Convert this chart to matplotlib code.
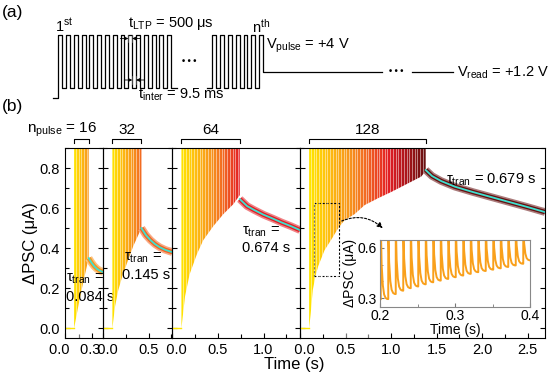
import numpy as np
import matplotlib
matplotlib.use('Agg')
import matplotlib.pyplot as plt
from matplotlib.colors import LinearSegmentedColormap, to_rgb
from matplotlib.patches import Rectangle
from matplotlib.ticker import MultipleLocator

plt.rcParams['font.family'] = ['Liberation Sans', 'DejaVu Sans']
plt.rcParams['mathtext.fontset'] = 'custom'
plt.rcParams['mathtext.rm'] = 'Liberation Sans'
plt.rcParams['mathtext.it'] = 'Liberation Sans:italic'
plt.rcParams['mathtext.default'] = 'regular'

# ------------------------- data -------------------------
n_pulse = [16, 32, 64, 128]
pulse_start = 0.1       # s
pulse_period = 0.01     # t_LTP + t_inter
t_max = [0.42, 0.76, 1.40, 2.69]
tau_text = ['0.084 s', '0.145 s', '0.674 s', '0.679 s']

# lower envelope of the spike train (troughs)
env1_t = [0.10, 0.15, 0.20, 0.26]
env1_v = [0.00, 0.12, 0.23, 0.35]
env2_t = [0.10, 0.13, 0.165, 0.21, 0.257, 0.33, 0.42]
env2_v = [0.00, 0.11, 0.19, 0.26, 0.32, 0.41, 0.50]
env3_t = [0.10, 0.12, 0.14, 0.19, 0.27, 0.34, 0.45, 0.56, 0.67, 0.74]
env3_v = [0.00, 0.08, 0.16, 0.27, 0.37, 0.44, 0.51, 0.57, 0.62, 0.665]
env4_t = [0.10, 0.117, 0.14, 0.17, 0.20, 0.27, 0.34, 0.42, 0.49, 0.60, 0.71, 0.86, 1.00, 1.15, 1.33, 1.38]
env4_v = [0.00, 0.07, 0.19, 0.26, 0.31, 0.39, 0.44, 0.50, 0.54, 0.57, 0.615, 0.65, 0.68, 0.715, 0.757, 0.785]

# relaxation after the last pulse
tail1_t = [0.26, 0.29, 0.32, 0.35, 0.38, 0.42]
tail1_v = [0.35, 0.328, 0.31, 0.297, 0.288, 0.28]
tail2_t = [0.42, 0.47, 0.52, 0.57, 0.62, 0.68, 0.76]
tail2_v = [0.50, 0.465, 0.44, 0.42, 0.405, 0.392, 0.38]
tail3_t = [0.74, 0.82, 0.90, 1.00, 1.10, 1.20, 1.30, 1.40]
tail3_v = [0.645, 0.61, 0.59, 0.567, 0.548, 0.528, 0.51, 0.49]
tail4_t = [1.38, 1.45, 1.55, 1.70, 1.90, 2.10, 2.30, 2.50, 2.69]
tail4_v = [0.79, 0.76, 0.735, 0.707, 0.68, 0.655, 0.63, 0.605, 0.58]

envs = [(env1_t, env1_v), (env2_t, env2_v), (env3_t, env3_v), (env4_t, env4_v)]
tails = [(tail1_t, tail1_v), (tail2_t, tail2_v), (tail3_t, tail3_v), (tail4_t, tail4_v)]

# inset: troughs of the 20 pulses between 0.2 and 0.4 s
inset_t0 = 0.201
inset_trough = [0.295, 0.325, 0.345, 0.36, 0.37, 0.383, 0.395, 0.405, 0.415, 0.425,
                0.435, 0.445, 0.455, 0.462, 0.47, 0.478, 0.486, 0.495, 0.505, 0.525]

# ------------------------- style -------------------------
W, H = 550, 379
cmap = LinearSegmentedColormap.from_list('pulse', [
    (0.0, '#FFE600'), (0.15, '#FFC20E'), (0.35, '#F7941D'), (0.5, '#F26522'),
    (0.68, '#E31E24'), (0.84, '#A8151A'), (1.0, '#651010')])
end_frac = [0.35, 0.5, 0.68, 1.0]
fit_color = '#3EE0D0'

def lighten(c, a=0.5):
    r = np.array(to_rgb(c))
    return tuple(r + (1 - r) * a)

# labels at the shared panel borders are nudged apart with spaces, as in the original
def x_fmt(panel):
    def f(v, p):
        s = f'{v:.1f}'
        if panel == 0:
            return s + '   ' if abs(v) < 1e-9 else s + ' '
        return '  ' + s if abs(v) < 1e-9 else s
    return plt.FuncFormatter(f)

fig = plt.figure(figsize=(W / 100, H / 100), dpi=100)

# ------------------------- (b) panels -------------------------
edges_px = [65, 103.3, 172.3, 300, 545]
bottom = (H - 338.3) / H
height = (338.3 - 148) / H
x_major = [0.3, 0.5, 0.5, 0.5]

axes = []
for i in range(4):
    ax = fig.add_axes([edges_px[i] / W, bottom, (edges_px[i + 1] - edges_px[i]) / W, height])
    ax.patch.set_visible(False)
    axes.append(ax)
    et, ev = envs[i]
    tt, tv = tails[i]

    # baseline before the train
    ax.plot([0, et[0]], [0, 0], color=cmap(0.0), lw=1.0)

    # spike train: gradient clipped by the region above the envelope
    poly = ax.fill_between(et, ev, 1.0, color='none', lw=0)
    grad = np.linspace(0, end_frac[i], 256)[None, :]
    img = ax.imshow(grad, cmap=cmap, vmin=0, vmax=1, aspect='auto', origin='lower',
                    extent=[et[0], et[-1], -0.05, 1.0], interpolation='bilinear')
    img.set_clip_path(poly.get_paths()[0], transform=ax.transData)
    pulses = pulse_start + pulse_period * np.arange(n_pulse[i])
    ax.vlines(pulses[2::3], -0.05, 1.0, color='white', lw=0.45, alpha=0.75)

    # relaxation + fit
    c = cmap(end_frac[i])
    ax.plot(tt, tv, color=lighten(c, 0.45), lw=5.5, solid_capstyle='butt')
    ax.plot(tt, tv, color=c, lw=3.2, solid_capstyle='butt')
    ax.plot(tt, tv, color=fit_color, lw=1.3)

    ax.set_xlim(0, t_max[i])
    ax.set_ylim(-0.05, 0.9)
    ax.xaxis.set_major_locator(MultipleLocator(x_major[i]))
    ax.xaxis.set_minor_locator(MultipleLocator(x_major[i] / 2))
    ax.yaxis.set_major_locator(MultipleLocator(0.2))
    ax.yaxis.set_minor_locator(MultipleLocator(0.1))
    ax.tick_params(which='both', direction='in', left=True, right=True, top=False,
                   labelleft=(i == 0), labelsize=10.5, width=0.8)
    ax.tick_params(which='major', length=3.5)
    ax.tick_params(which='minor', length=3)
    for s in ax.spines.values():
        s.set_linewidth(0.8)
    ax.xaxis.set_major_formatter(x_fmt(i))
    ax.yaxis.set_major_formatter(plt.FuncFormatter(lambda v, p: f'{v:.1f}'))

    # bracket over the pulse train
    t0, t1 = et[0], et[-1]
    ax.plot([t0, t0, t1, t1], [0.925, 0.945, 0.945, 0.925], color='k', lw=0.8, clip_on=False)

# bracket labels
axes[0].text(0.35, 0.99, 'n$_{pulse}$ = 16', ha='right', va='center', fontsize=11)
axes[1].text(0.26, 0.99, '32', ha='center', va='center', fontsize=11)
axes[2].text(0.42, 0.99, '64', ha='center', va='center', fontsize=11)
axes[3].text(0.74, 0.99, '128', ha='center', va='center', fontsize=11)

# time constants
fs_tau = 10.5
axes[0].text(0.01, 0.245, r'τ$_{tran}$ =', ha='left', va='center', fontsize=fs_tau, zorder=10)
axes[0].text(0.01, 0.155, tau_text[0], ha='left', va='center', fontsize=fs_tau, zorder=10)
axes[1].text(0.44, 0.35, r'τ$_{tran}$ =', ha='center', va='center', fontsize=fs_tau)
axes[1].text(0.47, 0.265, tau_text[1], ha='center', va='center', fontsize=fs_tau)
axes[2].text(0.76, 0.48, r'τ$_{tran}$ =', ha='left', va='center', fontsize=fs_tau)
axes[2].text(0.76, 0.40, tau_text[2], ha='left', va='center', fontsize=fs_tau)
axes[3].text(1.60, 0.74, r'τ$_{tran}$ = ' + tau_text[3], ha='left', va='center', fontsize=fs_tau)

# zoom box and arrow
axes[3].add_patch(Rectangle((0.155, 0.26), 0.275, 0.365, fill=False, lw=0.8,
                            ls=(0, (2, 1.5)), ec='k'))
axes[3].annotate('', xy=(0.93, 0.49), xytext=(0.43, 0.53),
                 arrowprops=dict(arrowstyle='-|>', lw=0.8, ls=(0, (2, 1.5)), color='k',
                                 connectionstyle='arc3,rad=-0.35', mutation_scale=8),
                 annotation_clip=False)

fig.text(30 / W, 1 - 243 / H, 'ΔPSC (μA)', rotation=90, ha='center', va='center', fontsize=12)
fig.text(294 / W, 1 - 364 / H, 'Time (s)', ha='center', va='center', fontsize=12)

# ------------------------- inset -------------------------
ax_in = fig.add_axes([380 / W, (H - 306.7) / H, 150 / W, 66.7 / H])
shape_dt = [0, 0.0012, 0.0028, 0.0045, 0.0065, 0.0085, 0.0098]
shape_f = [1.0, 0.45, 0.18, 0.06, 0.015, 0.002, 0.0]
peak = 0.75
xs, ys = [], []
for k, m in enumerate(inset_trough):
    tk = inset_t0 + k * pulse_period
    xs.append(tk)
    ys.append(inset_trough[k - 1] if k else m)
    for dt, f in zip(shape_dt, shape_f):
        xs.append(tk + dt)
        ys.append(m + (peak - m) * f)
ax_in.plot(xs, ys, color='#F9A01B', lw=1.4)
ax_in.set_xlim(0.2, 0.4)
ax_in.set_ylim(0.25, 0.646)
ax_in.xaxis.set_major_locator(MultipleLocator(0.1))
ax_in.xaxis.set_minor_locator(MultipleLocator(0.05))
ax_in.yaxis.set_major_locator(MultipleLocator(0.3))
ax_in.yaxis.set_minor_locator(MultipleLocator(0.1))
ax_in.tick_params(which='both', direction='in', labelsize=10, pad=2, color='#777777')
ax_in.tick_params(which='major', length=3)
ax_in.tick_params(which='minor', length=2)
for s in ax_in.spines.values():
    s.set_color('#888888')
    s.set_linewidth(0.8)
ax_in.set_xlabel('Time (s)', fontsize=10, labelpad=0)
ax_in.set_ylabel('ΔPSC (μA)', fontsize=10, labelpad=1)

# ------------------------- (a) pulse scheme -------------------------
ax_a = fig.add_axes([0, 1 - 112 / H, 1, 112 / H])
ax_a.set_xlim(0, W)
ax_a.set_ylim(112, 0)
ax_a.axis('off')

hi, lo, base, vread = 35, 88, 98, 72
per = 7.78
n_drawn = [15, 7]

def square_wave(x0, n):
    xs, ys = [], []
    for k in range(n):
        xa = x0 + k * per
        xs += [xa, xa, xa + per / 2, xa + per / 2]
        ys += [lo, hi, hi, lo]
    xs.append(x0 + n * per)
    ys.append(lo)
    return xs, ys

gx, gy = square_wave(58.3, n_drawn[0])
gx = [53.3, 58.3] + gx[:-1] + [177]
gy = [base, base] + gy[:-1] + [lo]
ax_a.plot(gx, gy, color='k', lw=0.9)

gx, gy = square_wave(212.4, n_drawn[1])
gy[-2] = vread
gx[-1], gy[-1] = 382, vread
ax_a.plot([207] + gx, [lo] + gy, color='k', lw=0.9)
ax_a.plot([412, 453], [vread, vread], color='k', lw=0.9)

ax_a.text(189.5, 62, '• • •', ha='center', va='center', fontsize=6.5, fontweight='bold')
ax_a.text(396.5, 72, '• • •', ha='center', va='center', fontsize=6.5, fontweight='bold')

# t_LTP and t_inter markers
xa = 58.3 + 9 * per
xb = xa + per / 2
xc = xb + per / 2
for x in (xa, xb):
    ax_a.plot([x, x], [35, 42], color='0.4', lw=0.5)
for x in (xb, xc):
    ax_a.plot([x, x], [76, 84], color='0.4', lw=0.5)
arr = dict(arrowstyle='-|>', lw=0.6, color='k', mutation_scale=5, shrinkA=0, shrinkB=0)
ax_a.annotate('', xy=(xa, 38.5), xytext=(xa - 8, 38.5), arrowprops=arr)
ax_a.annotate('', xy=(xb, 38.5), xytext=(xb + 8, 38.5), arrowprops=arr)
ax_a.annotate('', xy=(xb, 80), xytext=(xb - 8, 80), arrowprops=arr)
ax_a.annotate('', xy=(xc, 80), xytext=(xc + 8, 80), arrowprops=arr)

fs_a = 10.5
ax_a.text(55, 31.5, '1$^{st}$', ha='left', va='baseline', fontsize=fs_a)
ax_a.text(128, 26.7, 't$_{LTP}$ = 500 μs', ha='left', va='baseline', fontsize=fs_a)
ax_a.text(138, 98.3, 't$_{inter}$ = 9.5 ms', ha='left', va='baseline', fontsize=fs_a)
ax_a.text(252, 33, 'n$^{th}$', ha='left', va='baseline', fontsize=fs_a)
ax_a.text(266, 48.3, 'V$_{pulse}$ = +4 V', ha='left', va='baseline', fontsize=fs_a)
ax_a.text(457, 76.7, 'V$_{read}$ = +1.2 V', ha='left', va='baseline', fontsize=fs_a)

fig.text(2 / W, 1 - 12 / H, '(a)', ha='left', va='center', fontsize=12.5)
fig.text(2 / W, 1 - 107 / H, '(b)', ha='left', va='center', fontsize=12.5)

fig.savefig('out.png', dpi=100)
